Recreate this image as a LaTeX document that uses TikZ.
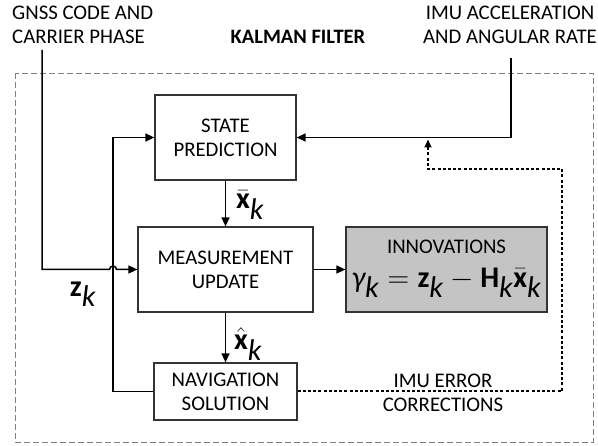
\documentclass[tikz,border=0pt]{standalone}
\usepackage{fix-cm}
\usepackage{fontspec}
\setmainfont{Carlito}
\setsansfont{Carlito}
\usetikzlibrary{arrows.meta,calc}
\definecolor{boxline}{HTML}{333333}
\definecolor{innfill}{HTML}{C4C4C4}
\definecolor{outerline}{HTML}{808080}
\newcommand{\sk}{_{\textit{k}}}
\begin{document}
\begin{tikzpicture}[x=1pt,y=-1pt,
  font=\fontsize{20.8}{24}\selectfont,
  blk/.style={draw=boxline,line width=1.2pt,rectangle,align=center,inner sep=0pt},
  conn/.style={line width=1.5pt,-{Triangle[length=9pt,width=8pt]}},
  dotconn/.style={line width=2pt,dash pattern=on 3pt off 2.2pt,-{Triangle[length=8pt,width=7pt]}},
  mathlbl/.style={font=\fontsize{30}{34}\selectfont,inner sep=0pt},
  lbl/.style={align=center,inner sep=0pt}]
\useasboundingbox (0,0) rectangle (598,446);
% outer dashed frame
\draw[outerline,line width=0.9pt,dash pattern=on 6pt off 3pt] (15,73) rectangle (593,442);
% blocks
\node[blk,minimum width=141pt,minimum height=85pt] (sp) at (225.5,137.5) {STATE\\PREDICTION};
\node[blk,minimum width=175pt,minimum height=85pt] (mu) at (225.5,269.5) {MEASUREMENT\\UPDATE};
\node[blk,fill=innfill,minimum width=201pt,minimum height=85pt] (inn) at (446.5,269.5) {};
\node[lbl] (innt) at (446.5,247) {INNOVATIONS};
\node[mathlbl] (innf) at (446.5,283) {$\textit{γ}\sk=\mathbf{z}\sk-\mathbf{H}\sk\bar{\mathbf{x}}\sk$};
\node[blk,minimum width=143pt,minimum height=57pt] (nav) at (225.5,391.5) {NAVIGATION\\SOLUTION};
% texts
\node[lbl,align=left,anchor=west] (gnss) at (12,25) {GNSS CODE AND\\CARRIER PHASE};
\node[lbl,font=\fontsize{20.5}{24}\selectfont\bfseries] (kf) at (298,37) {KALMAN FILTER};
\node[lbl] (imu) at (510,25) {IMU ACCELERATION\\AND ANGULAR RATE};
\node[lbl] (corr) at (443,393) {IMU ERROR\\CORRECTIONS};
\node[mathlbl,anchor=west] (xbar) at (236,205) {$\bar{\mathbf{x}}\sk$};
\node[mathlbl,anchor=west] (xhat) at (234,344) {$\hat{\mathbf{x}}\sk$};
\node[mathlbl] (zk) at (83,294) {$\mathbf{z}\sk$};
% coordinates
\coordinate (g1) at (42,50);
\coordinate (jmp) at (113,269.5);
\coordinate (i1) at (511,58);
\coordinate (fb) at (113,137.5);
\coordinate (d1) at (562,169);
\coordinate (d2) at (428,139.5);
% connectors
\draw[conn] (g1) |- ($(jmp)+(-3.5,0)$) arc[start angle=180,end angle=0,radius=3.5pt] -- (mu.west);
\draw[conn] (i1) |- (sp.east);
\draw[conn] (sp.south) -- (mu.north);
\draw[conn] (mu.east) -- (inn.west);
\draw[conn] (mu.south) -- (nav.north);
\draw[conn] (nav.west) -| (fb) -- (sp.west);
\draw[dotconn] (nav.east) -| (d1) -| (d2);
\end{tikzpicture}
\end{document}
